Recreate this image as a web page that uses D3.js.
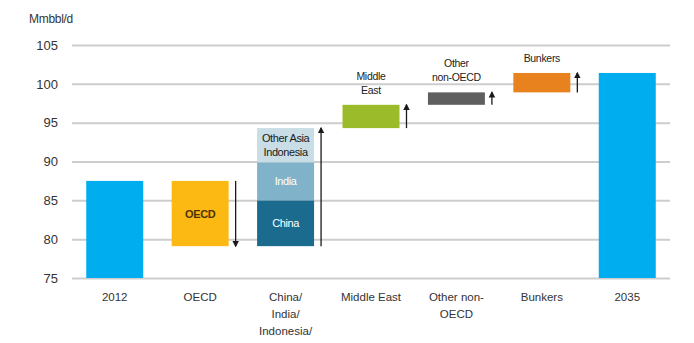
<!DOCTYPE html>
<html>
<head>
<meta charset="utf-8">
<script src="https://cdn.jsdelivr.net/npm/d3@7/dist/d3.min.js"></script>
<style>
  html, body { margin: 0; padding: 0; background: #fff; }
  svg { display: block; font-family: "Liberation Sans", Arial, sans-serif; }
</style>
</head>
<body>
<svg id="chart" width="694" height="343"></svg>
<script>
// Oil demand change, 2012 to 2035 (mb/d)
const categories = ["2012", "OECD", "China/India/Indonesia/Other Asia", "Middle East", "Other non-OECD", "Bunkers", "2035"];
const axisLabels = [["2012"], ["OECD"], ["China/", "India/", "Indonesia/", "Other Asia"], ["Middle East"], ["Other non-", "OECD"], ["Bunkers"], ["2035"]];
const totals = { "2012": 87.5, "2035": 101.4 };
// Stacked pieces of each change step, in order from the step's starting level
const stepPieces = {
  "OECD": [{ name: "OECD", value: -8.4 }],
  "China/India/Indonesia/Other Asia": [
    { name: "China", value: 5.9 },
    { name: "India", value: 4.9 },
    { name: "Other Asia Indonesia", value: 4.4 }
  ],
  "Middle East": [{ name: "Middle East", value: 3.0 }],
  "Other non-OECD": [{ name: "Other non-OECD", value: 1.6 }],
  "Bunkers": [{ name: "Bunkers", value: 2.5 }]
};
const yTicks = [75, 80, 85, 90, 95, 100, 105];
const unitLabel = "Mmbbl/d";

const colors = {
  "2012": "#00aeef", "2035": "#00aeef",
  "OECD": "#fdb913",
  "China": "#1b6b8e", "India": "#80b3c9", "Other Asia Indonesia": "#c8dde6",
  "Middle East": "#9cbb2b",
  "Other non-OECD": "#5f5f5f",
  "Bunkers": "#e8821e"
};
// Labels drawn inside the bars
const innerLabels = {
  "OECD": { lines: ["OECD"], fill: "#4a3300" },
  "China": { lines: ["China"], fill: "#ffffff" },
  "India": { lines: ["India"], fill: "#ffffff" },
  "Other Asia Indonesia": { lines: ["Other Asia", "Indonesia"], fill: "#1a1a1a" }
};
// Labels drawn above the bars
const topLabels = {
  "Middle East": ["Middle", "East"],
  "Other non-OECD": ["Other", "non-OECD"],
  "Bunkers": ["Bunkers"]
};

const svg = d3.select("#chart");
const plotLeft = 72, plotRight = 670, plotTop = 45, plotBottom = 278;

const x = d3.scaleBand().domain(categories).range([plotLeft, plotRight])
  .paddingInner(0.333).paddingOuter(0.1667);
const y = d3.scaleLinear().domain([75, 105]).range([plotBottom, plotTop]);

// Gridlines and tick labels
const yAxis = d3.axisLeft(y).tickValues(yTicks).tickSize(-(plotRight - plotLeft)).tickPadding(14);
const gAxis = svg.append("g").attr("transform", `translate(${plotLeft},0)`).call(yAxis);
gAxis.select(".domain").remove();
gAxis.selectAll(".tick line").attr("stroke", "#cdcdcd").attr("stroke-width", 2);
gAxis.selectAll(".tick text").attr("fill", "#333").style("font-size", "13px");

svg.append("text").attr("x", 29).attr("y", 23).attr("fill", "#333")
  .style("font-size", "12px").attr("letter-spacing", "-0.3").text(unitLabel);

// Build segments of the waterfall
const segments = [];
const arrows = [];
let level = 0;
categories.forEach(c => {
  if (totals[c] !== undefined) {
    segments.push({ cat: c, name: c, y0: 75, y1: totals[c] });
    level = totals[c];
  } else {
    const start = level;
    stepPieces[c].forEach(p => {
      segments.push({ cat: c, name: p.name, y0: level, y1: level + p.value });
      level += p.value;
    });
    arrows.push({ cat: c, from: start, to: level });
  }
});

const bw = x.bandwidth();
svg.append("g").selectAll("rect").data(segments).join("rect")
  .attr("x", d => x(d.cat))
  .attr("width", bw)
  .attr("y", d => y(Math.max(d.y0, d.y1)))
  .attr("height", d => Math.abs(y(d.y0) - y(d.y1)))
  .attr("fill", d => colors[d.name]);

// Inner labels
segments.forEach(d => {
  const lab = innerLabels[d.name];
  if (!lab) return;
  const cy = (y(d.y0) + y(d.y1)) / 2;
  const lh = 13.5;
  lab.lines.forEach((t, i) => {
    svg.append("text")
      .attr("x", x(d.cat) + bw / 2)
      .attr("y", cy + (i - (lab.lines.length - 1) / 2) * lh + 4)
      .attr("text-anchor", "middle")
      .attr("fill", lab.fill)
      .attr("letter-spacing", "-0.4")
      .style("font-size", "11px")
      .style("font-weight", d.name === "OECD" ? "bold" : "normal")
      .text(t);
  });
});

// Direction arrows
const defs = svg.append("defs");
defs.append("marker").attr("id", "head").attr("viewBox", "0 0 10 10")
  .attr("refX", 8).attr("refY", 5).attr("markerWidth", 5).attr("markerHeight", 6)
  .attr("orient", "auto-start-reverse")
  .append("path").attr("d", "M0,0 L10,5 L0,10 Z").attr("fill", "#1a1a1a");

svg.append("g").selectAll("line").data(arrows).join("line")
  .attr("x1", d => x(d.cat) + bw + 7)
  .attr("x2", d => x(d.cat) + bw + 7)
  .attr("y1", d => y(d.from))
  .attr("y2", d => y(d.to))
  .attr("stroke", "#1a1a1a").attr("stroke-width", 1.3)
  .attr("marker-end", "url(#head)");

// Labels above selected bars
Object.entries(topLabels).forEach(([c, lines]) => {
  const seg = segments.filter(s => s.cat === c);
  const topY = d3.min(seg, s => y(Math.max(s.y0, s.y1)));
  lines.forEach((t, i) => {
    svg.append("text")
      .attr("x", x(c) + bw / 2)
      .attr("y", topY - 11 - (lines.length - 1 - i) * 14)
      .attr("text-anchor", "middle")
      .attr("fill", "#222")
      .attr("letter-spacing", "-0.3")
      .style("font-size", "10.5px")
      .text(t);
  });
});

// Category labels below the axis
categories.forEach((c, i) => {
  axisLabels[i].forEach((t, j) => {
    svg.append("text")
      .attr("x", x(c) + bw / 2)
      .attr("y", 301 + j * 16.8)
      .attr("text-anchor", "middle")
      .attr("fill", "#333")
      .style("font-size", "11.5px")
      .text(t);
  });
});
</script>
</body>
</html>
